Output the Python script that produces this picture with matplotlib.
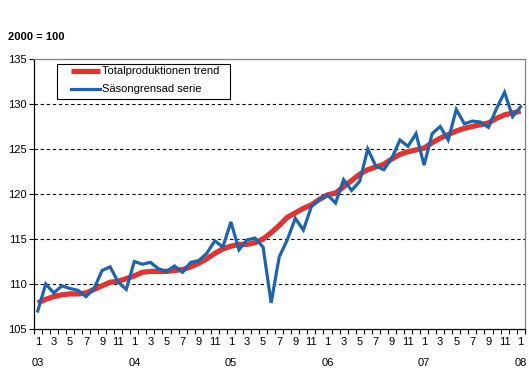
import matplotlib
matplotlib.use("Agg")
import matplotlib.pyplot as plt
from matplotlib.patches import Rectangle
import numpy as np

plt.rcParams['font.family'] = ['Liberation Sans', 'DejaVu Sans']

years = ["03", "04", "05", "06", "07", "08"]
trend = [107.9, 108.3, 108.6, 108.8, 108.9, 108.9, 109.0, 109.4, 109.8, 110.2, 110.3, 110.6,
         110.9, 111.3, 111.4, 111.4, 111.4, 111.5, 111.6, 111.9, 112.3, 112.8, 113.4, 113.9,
         114.2, 114.4, 114.4, 114.6, 115.0, 115.7, 116.5, 117.4, 117.9, 118.4, 118.8, 119.4,
         119.9, 120.1, 120.8, 121.5, 122.2, 122.7, 123.0, 123.3, 123.9, 124.4, 124.7, 124.9,
         125.1, 125.7, 126.2, 126.6, 127.0, 127.3, 127.5, 127.7, 127.9, 128.4, 128.8, 129.0,
         129.2]
seasonal = [107.0, 110.0, 109.0, 109.8, 109.5, 109.3, 108.6, 109.5, 111.5, 111.9, 110.2, 109.4,
            112.5, 112.2, 112.4, 111.7, 111.4, 112.0, 111.3, 112.4, 112.6, 113.4, 114.8, 114.1,
            116.9, 113.8, 114.9, 115.1, 114.1, 107.9, 113.0, 114.9, 117.3, 116.0, 118.6, 119.4,
            119.9, 119.0, 121.6, 120.4, 121.4, 125.0, 123.1, 122.7, 124.0, 126.0, 125.3, 126.7,
            123.2, 126.7, 127.5, 126.0, 129.4, 127.8, 128.1, 128.0, 127.4, 129.5, 131.3, 128.6,
            129.7]
yticks = [105, 110, 115, 120, 125, 130, 135]

W, H = 529, 373
fig = plt.figure(figsize=(W / 100, H / 100), dpi=100)
ax = fig.add_axes([33.7 / W, 1 - 329 / H, (524.7 - 33.7) / W, (329 - 59) / H])

n = len(seasonal)
x = np.arange(n)
red = '#DC3535'
blue = '#1F64AA'
ax.plot(x, trend, color=red, lw=3.8, solid_capstyle='butt', label='Totalproduktionen trend', zorder=3)
ax.plot(x, seasonal, color=blue, lw=2.3, solid_joinstyle='miter', label='Säsongrensad serie', zorder=4)

ax.set_xlim(-0.5, n - 0.5)
ax.set_ylim(105, 135)
ax.set_yticks(yticks)
ax.set_yticklabels([str(v) for v in yticks], fontsize=8)
ax.tick_params(axis='y', direction='out', length=3.5, width=0.8, pad=1.5)
for v in yticks[1:-1]:
    ax.axhline(v, color='black', lw=0.8, ls=(0, (3, 2.5)), zorder=1)

# category boundary ticks
ax.set_xticks(np.arange(-0.5, n, 1.0))
ax.set_xticklabels([])
ax.tick_params(axis='x', which='major', direction='out', length=3.5, width=0.8)
months = [(i % 12) + 1 for i in range(n)]
lab_pos = [i for i in range(n) if months[i] % 2 == 1]
ax.set_xticks(lab_pos, minor=True)
ax.set_xticklabels([str(months[i]) for i in lab_pos], minor=True, fontsize=8)
ax.tick_params(axis='x', which='minor', length=0, pad=5.5)
for k, yr in enumerate(years):
    ax.annotate(yr, xy=(k * 12, 0), xycoords=('data', 'axes fraction'),
                xytext=(0, -24.2), textcoords='offset points',
                ha='center', va='center', fontsize=8)

for s in ['left', 'bottom']:
    ax.spines[s].set_color('black')
    ax.spines[s].set_linewidth(0.9)
for s in ['top', 'right']:
    ax.spines[s].set_color('#808080')
    ax.spines[s].set_linewidth(0.9)

fig.text(8 / W, 1 - 37 / H, '2000 = 100', fontsize=8, fontweight='bold', va='center', ha='left')

# legend frame drawn as a figure rectangle
fig.patches.append(Rectangle((57 / W, 1 - 99 / H), (230 - 57) / W, (99 - 64) / H,
                             transform=fig.transFigure, facecolor='white', edgecolor='black',
                             lw=0.8, zorder=5))
leg = ax.legend(loc='upper left', bbox_to_anchor=(71 / W, 1 - 66.5 / H), bbox_transform=fig.transFigure,
                fontsize=8, frameon=False, handlelength=2.65, handletextpad=0.12,
                labelspacing=0.72, borderpad=0, borderaxespad=0)
leg.set_zorder(10)
leg.remove()
fig.legends.append(leg)
leg.figure = fig

fig.savefig('out.png', dpi=100)
